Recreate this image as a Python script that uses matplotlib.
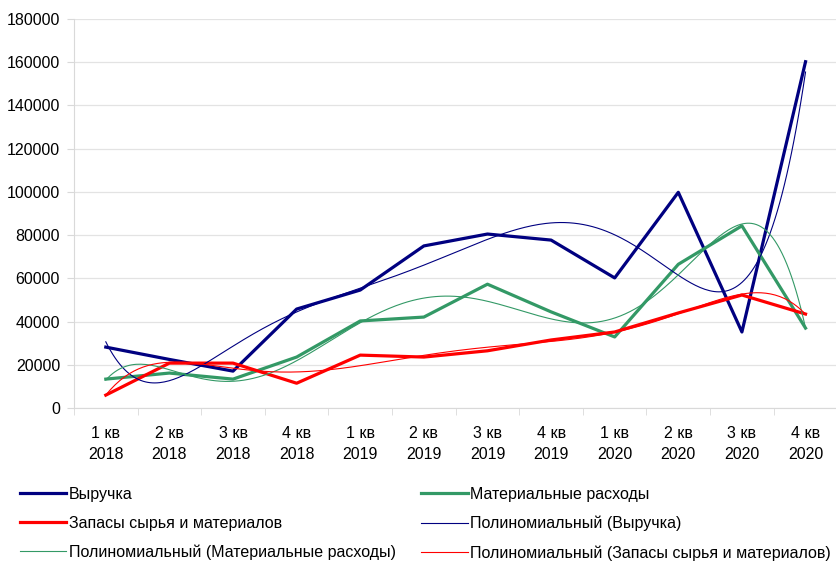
import numpy as np
import matplotlib.pyplot as plt

plt.rcParams['font.family'] = ['Liberation Sans', 'DejaVu Sans']

quarters = ['1 кв\n2018', '2 кв\n2018', '3 кв\n2018', '4 кв\n2018',
            '1 кв\n2019', '2 кв\n2019', '3 кв\n2019', '4 кв\n2019',
            '1 кв\n2020', '2 кв\n2020', '3 кв\n2020', '4 кв\n2020']
revenue = [28200, 22500, 17100, 45800, 54600, 75000, 80500, 77700, 60200, 99800, 35200, 160200]
material_costs = [13400, 16200, 13400, 23600, 40300, 42100, 57300, 44500, 32900, 66500, 84300, 37000]
stocks = [6000, 20800, 20800, 11500, 24500, 23600, 26500, 31500, 35200, 44000, 52300, 43500]

navy = '#000080'
green = '#339966'
red = '#ff0000'

x = np.arange(1, len(quarters) + 1)
xf = np.linspace(1, len(quarters), 300)

def trend(y, deg=6):
    # polynomial trendline, same as the Excel one
    return np.polyval(np.polyfit(x, y, deg), xf)

fig = plt.figure(figsize=(8.37, 5.66), dpi=100)
ax = fig.add_axes([0.0884, 0.279, 0.912, 0.6876])

l1, = ax.plot(x, revenue, color=navy, lw=2.3, label='Выручка')
l2, = ax.plot(x, material_costs, color=green, lw=2.3, label='Материальные расходы')
l3, = ax.plot(x, stocks, color=red, lw=2.3, label='Запасы сырья и материалов')
t1, = ax.plot(xf, trend(revenue), color=navy, lw=0.8, label='Полиномиальный (Выручка)')
t2, = ax.plot(xf, trend(material_costs), color=green, lw=0.8,
              label='Полиномиальный (Материальные расходы)')
t3, = ax.plot(xf, trend(stocks), color=red, lw=0.8,
              label='Полиномиальный (Запасы сырья и материалов)')

ax.set_xlim(0.5, len(quarters) + 0.5)
ax.set_ylim(0, 180000)
ax.set_yticks(np.arange(0, 180001, 20000))
ax.yaxis.grid(True, color='#e3e3e3', lw=0.9)
ax.set_axisbelow(True)

ax.set_xticks(x)
ax.set_xticklabels(quarters, fontsize=11.5, linespacing=1.45)
ax.set_xticks(np.arange(0.5, len(quarters) + 1), minor=True)
ax.tick_params(axis='x', which='major', length=0, pad=13)
ax.tick_params(axis='x', which='minor', length=5, color='#d9d9d9')
ax.tick_params(axis='y', length=5, color='#d9d9d9', labelsize=11.5, pad=5)

for s in ['top', 'right']:
    ax.spines[s].set_visible(False)
for s in ['left', 'bottom']:
    ax.spines[s].set_color('#d9d9d9')

handles = [l1, l3, t2, l2, t1, t3]
fig.legend(handles, [h.get_label() for h in handles], ncol=2,
           loc='upper left', bbox_to_anchor=(0.024, 0.14), frameon=False,
           fontsize=11.5, handlelength=2.9, handletextpad=0.15,
           columnspacing=1.6, labelspacing=0.87, borderaxespad=0, borderpad=0)

fig.savefig('out.png', dpi=100)
